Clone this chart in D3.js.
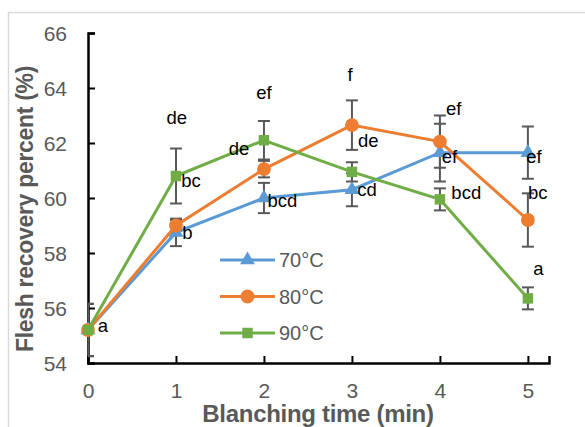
<!DOCTYPE html>
<html>
<head>
<meta charset="utf-8">
<script src="https://cdn.jsdelivr.net/npm/d3@7"></script>
<style>
  body { margin: 0; background: #fff; }
  svg { font-family: "Liberation Sans", Arial, sans-serif; }
</style>
</head>
<body>
<div id="chart"></div>
<script>
// blanching time (min)
var times = [0, 1, 2, 3, 4, 5];

// flesh recovery percent, mean and error per temperature
var s70 = [55.2, 58.75, 60.0, 60.3, 61.65, 61.65];
var e70 = [0.95, 0.5, 0.55, 0.6, 1.05, 0.95];
var s80 = [55.2, 59.0, 61.05, 62.65, 62.05, 59.2];
var e80 = [0.95, 0.2, 0.3, 0.9, 0.95, 0.97];
var s90 = [55.2, 60.8, 62.1, 60.95, 59.95, 56.35];
var e90 = [0.95, 1.0, 0.7, 0.35, 0.4, 0.4];

var seriesNames = ["70°C", "80°C", "90°C"];
var yTicks = [54, 56, 58, 60, 62, 64, 66];

// significance letters, anchored in data units (time, value)
var letterT = [0.11, 1.01, 1.06, 1.07, 2.0, 1.6, 2.04, 2.98, 3.07, 3.06, 4.07, 4.02, 4.13, 4.98, 5.0, 5.06];
var letterV = [55.13, 62.69, 60.4, 58.5, 63.6, 61.56, 59.67, 64.25, 61.85, 60.07, 63.02, 61.27, 59.96, 61.27, 59.96, 57.2];
var letterText = ["a", "de", "bc", "b", "ef", "de", "bcd", "f", "de", "cd", "ef", "ef", "bcd", "ef", "bc", "a"];
var letterMiddle = [false, true, false, false, true, false, false, true, false, false, false, false, false, false, false, false];

var colors = ["#5B9BD5", "#ED7D31", "#70AD47"];
var shapes = [d3.symbolTriangle, d3.symbolCircle, d3.symbolSquare];
var shapeSize = [95, 150, 110];

var width = 585, height = 427;

var svg = d3.select("#chart").append("svg")
  .attr("width", width)
  .attr("height", height);

// chart area frame
svg.append("rect")
  .attr("x", 8.5).attr("y", 12.5)
  .attr("width", 590).attr("height", 430)
  .attr("fill", "none").attr("stroke", "#d9d9d9").attr("stroke-width", 1.5);

var x = d3.scaleLinear().domain([0, 5.24]).range([88, 549]);
var y = d3.scaleLinear().domain([54, 66]).range([363, 33]);

svg.append("defs").append("clipPath").attr("id", "plotclip")
  .append("rect").attr("x", 88).attr("y", 20).attr("width", 470).attr("height", 343);

// axes (ticks point inward)
var xAxis = svg.append("g")
  .attr("transform", "translate(0,363)")
  .call(d3.axisBottom(x).tickValues(times).tickSize(-7).tickPadding(20).tickFormat(d3.format("d")));
var yAxis = svg.append("g")
  .attr("transform", "translate(88,0)")
  .call(d3.axisLeft(y).tickValues(yTicks).tickSize(-7).tickPadding(21));

[xAxis, yAxis].forEach(function(ax) {
  ax.select(".domain").attr("stroke", "#000").attr("stroke-width", 2.5);
  ax.selectAll(".tick line").attr("stroke", "#000").attr("stroke-width", 2);
  ax.selectAll(".tick text")
    .attr("fill", "#595959")
    .style("font-size", "21px")
    .style("font-family", "'Liberation Sans', Arial, sans-serif");
});
yAxis.selectAll(".tick text").attr("dy", "0.35em");

// axis titles
svg.append("text")
  .attr("transform", "translate(33,209) rotate(-90)")
  .attr("text-anchor", "middle")
  .attr("fill", "#595959")
  .style("font-size", "23px").style("font-weight", "bold").style("letter-spacing", "-0.3px")
  .text("Flesh recovery percent (%)");

svg.append("text")
  .attr("x", 318).attr("y", 422)
  .attr("text-anchor", "middle")
  .attr("fill", "#595959")
  .style("font-size", "24px").style("font-weight", "bold").style("letter-spacing", "-0.3px")
  .text("Blanching time (min)");

var means = [s70, s80, s90];
var errs = [e70, e80, e90];

var line = d3.line()
  .x(function(d, i) { return x(times[i]); })
  .y(function(d) { return y(d); });

// error bars
var eb = svg.append("g").attr("clip-path", "url(#plotclip)");
means.forEach(function(m, k) {
  m.forEach(function(v, i) {
    var cx = x(times[i]), lo = y(v - errs[k][i]), hi = y(v + errs[k][i]);
    var g = eb.append("g").attr("stroke", "#595959").attr("stroke-width", 2);
    g.append("line").attr("x1", cx).attr("x2", cx).attr("y1", lo).attr("y2", hi);
    g.append("line").attr("x1", cx - 6).attr("x2", cx + 6).attr("y1", lo).attr("y2", lo);
    g.append("line").attr("x1", cx - 6).attr("x2", cx + 6).attr("y1", hi).attr("y2", hi);
  });
});

// lines and markers
means.forEach(function(m, k) {
  svg.append("path")
    .datum(m)
    .attr("d", line)
    .attr("fill", "none")
    .attr("stroke", colors[k])
    .attr("stroke-width", 3);
  svg.selectAll(".mk" + k)
    .data(m)
    .enter().append("path")
    .attr("class", "mk" + k)
    .attr("transform", function(d, i) { return "translate(" + x(times[i]) + "," + y(d) + ")"; })
    .attr("d", d3.symbol().type(shapes[k]).size(shapeSize[k]))
    .attr("fill", colors[k]);
});

// significance letters
svg.selectAll(".letter")
  .data(letterText)
  .enter().append("text")
  .attr("class", "letter")
  .attr("x", function(d, i) { return x(letterT[i]); })
  .attr("y", function(d, i) { return y(letterV[i]); })
  .attr("text-anchor", function(d, i) { return letterMiddle[i] ? "middle" : "start"; })
  .attr("fill", "#000")
  .style("font-size", "18.5px")
  .text(function(d) { return d; });

// legend
var legend = svg.append("g");
seriesNames.forEach(function(name, k) {
  var ly = 260 + k * 36.5;
  legend.append("line")
    .attr("x1", 220).attr("x2", 275).attr("y1", ly).attr("y2", ly)
    .attr("stroke", colors[k]).attr("stroke-width", 3);
  legend.append("path")
    .attr("transform", "translate(247.5," + ly + ")")
    .attr("d", d3.symbol().type(shapes[k]).size(shapeSize[k]))
    .attr("fill", colors[k]);
  legend.append("text")
    .attr("x", 279).attr("y", ly)
    .attr("dy", "0.35em")
    .attr("fill", "#595959")
    .style("font-size", "20px")
    .text(name);
});
</script>
</body>
</html>
